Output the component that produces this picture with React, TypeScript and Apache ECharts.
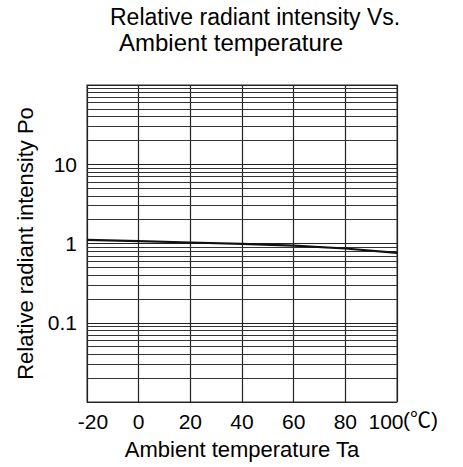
import React, { useEffect, useRef } from "react";
import * as echarts from "echarts";

const temps = [-20, 0, 20, 40, 60, 80, 100];
const intensity = [1.11, 1.07, 1.03, 0.99, 0.94, 0.865, 0.76];
const yLabels = ["0.1", "1", "10"];
const minorLines = [
  0.02, 0.03, 0.04, 0.05, 0.06, 0.07, 0.08, 0.09,
  0.2, 0.3, 0.4, 0.5, 0.6, 0.7, 0.8, 0.9,
  2, 3, 4, 5, 6, 7, 8, 9,
  20, 30, 40, 50, 60, 70, 80, 90,
];
const titleLines = ["Relative radiant intensity Vs.", "Ambient temperature"];

const FONT = "'Liberation Sans', Arial, 'Noto Sans CJK SC', sans-serif";

export default function App() {
  const ref = useRef<HTMLDivElement>(null);
  useEffect(() => {
    if (!ref.current) return;
    const chart = echarts.init(ref.current, null, { renderer: "svg" });
    const ts = (size: number) => ({ fontSize: size, fontWeight: "normal", color: "#000", fontFamily: FONT });
    chart.setOption({
      animation: false,
      backgroundColor: "#fff",
      textStyle: { fontFamily: FONT },
      title: [
        { text: titleLines[0], left: 110, top: 5, padding: 0, textStyle: ts(23) },
        { text: titleLines[1], left: 119, top: 30, padding: 0, textStyle: ts(24) },
        { text: "(℃)", left: 403, top: 409, padding: 0, textStyle: ts(21) },
      ],
      grid: {
        left: 87,
        right: 66,
        top: 85,
        bottom: 65,
        show: true,
        borderColor: "#777",
        borderWidth: 1.5,
        backgroundColor: "transparent",
      },
      xAxis: {
        type: "value",
        min: -20,
        max: 100,
        interval: 20,
        name: "Ambient temperature Ta",
        nameLocation: "middle",
        nameGap: 36,
        nameTextStyle: ts(22),
        axisLine: { show: false },
        axisTick: { show: false },
        axisLabel: {
          ...ts(21),
          margin: 9,
          formatter: (v: number) => {
            if (v === -20) return "{a|-20}";
            if (v === 100) return "{b|100}";
            return String(v);
          },
          rich: {
            a: { ...ts(21), padding: [0, 0, 0, 12] },
            b: { ...ts(21), padding: [0, 22, 0, 0] },
          },
        },
        splitLine: { show: true, lineStyle: { color: "#222", width: 1.2 } },
      },
      yAxis: {
        type: "log",
        logBase: 10,
        min: 0.01,
        max: 100,
        name: "Relative radiant intensity Po",
        nameLocation: "middle",
        nameGap: 48,
        nameTextStyle: ts(22),
        axisLine: { show: false },
        axisTick: { show: false },
        axisLabel: {
          ...ts(21),
          margin: 10,
          formatter: (v: number) => {
            const s = v < 1 ? v.toFixed(1) : String(Math.round(v));
            return yLabels.includes(s) && v > 0.05 && v < 50 ? s : "";
          },
        },
        splitLine: { show: true, lineStyle: { color: "#222", width: 1.2 } },
      },
      series: [
        {
          type: "line",
          data: temps.map((t, i) => [t, intensity[i]]),
          symbol: "none",
          smooth: false,
          lineStyle: { color: "#111", width: 2.2 },
          z: 5,
          markLine: {
            silent: true,
            symbol: "none",
            label: { show: false },
            lineStyle: { color: "#333", width: 1, type: "solid" },
            data: minorLines.map((v) => ({ yAxis: v })),
            z: 2,
          },
        },
      ],
    });
    return () => chart.dispose();
  }, []);
  return <div ref={ref} style={{ position: "fixed", left: 0, top: 0, width: 463, height: 467 }} />;
}
